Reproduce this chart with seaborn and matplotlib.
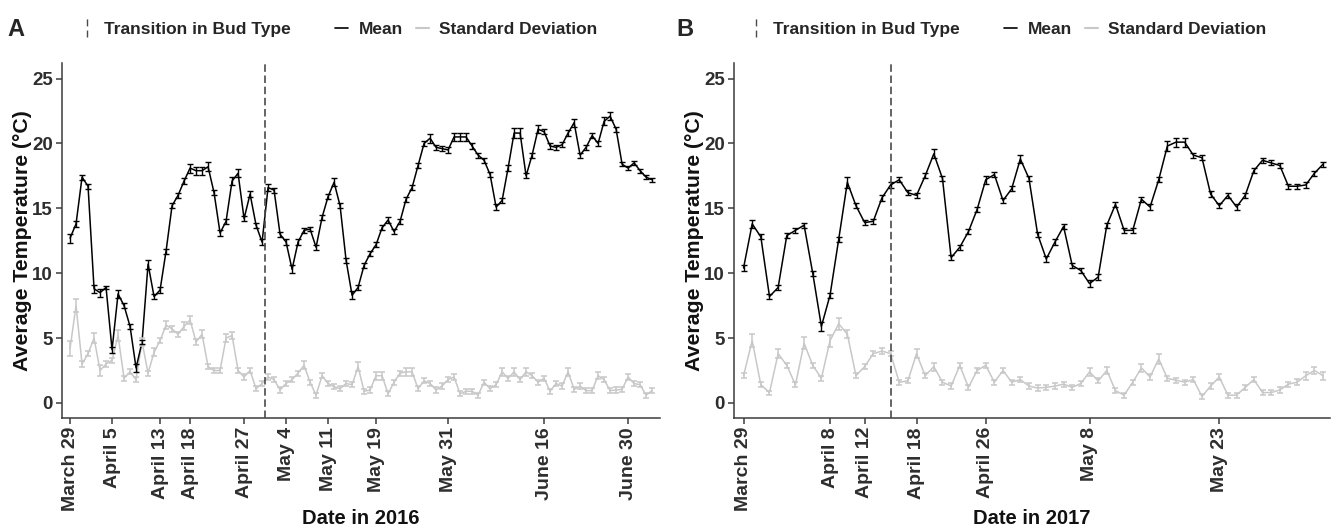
import numpy as np
import pandas as pd
import matplotlib
matplotlib.use("Agg")
import matplotlib.pyplot as plt
import seaborn as sns
from matplotlib.lines import Line2D
from matplotlib.legend_handler import HandlerBase
from matplotlib.font_manager import FontProperties

# ---------------- data ----------------
# Panel A: 2016, daily values starting March 29
mean_2016 = [12.7, 13.8, 17.4, 16.7, 8.8, 8.5, 8.9, 4.1, 8.4, 7.5,
             5.9, 2.7, 4.7, 10.7, 8.2, 8.7, 11.7, 15.2, 16.0, 17.1,
             18.1, 17.9, 17.9, 18.2, 16.2, 13.1, 14.0, 17.1, 17.7, 14.2,
             16.1, 13.7, 12.4, 16.6, 16.4, 13.0, 12.4, 10.3, 12.4, 13.3,
             13.4, 12.0, 14.3, 15.9, 17.0, 15.2, 11.0, 8.3, 8.9, 10.6,
             11.5, 12.2, 13.5, 14.1, 13.2, 14.0, 15.7, 16.6, 18.3, 20.0,
             20.4, 19.7, 19.6, 19.5, 20.5, 20.5, 20.5, 19.8, 19.1, 18.7,
             17.6, 15.1, 15.6, 18.1, 20.8, 20.8, 17.5, 19.1, 21.1, 20.9,
             19.8, 19.7, 19.9, 20.8, 21.6, 19.1, 19.7, 20.6, 20.0, 21.7,
             22.1, 21.1, 18.4, 18.1, 18.5, 17.9, 17.4, 17.2]
mean_2016_err = [0.35, 0.25, 0.2, 0.2, 0.3, 0.3, 0.15, 0.25, 0.3, 0.2,
                 0.2, 0.3, 0.15, 0.35, 0.2, 0.2, 0.2, 0.2, 0.2, 0.2,
                 0.35, 0.3, 0.3, 0.35, 0.2, 0.2, 0.2, 0.3, 0.3, 0.2,
                 0.2, 0.2, 0.2, 0.3, 0.2, 0.2, 0.2, 0.3, 0.2, 0.2,
                 0.15, 0.2, 0.2, 0.2, 0.3, 0.2, 0.2, 0.3, 0.2, 0.2,
                 0.2, 0.2, 0.2, 0.2, 0.2, 0.2, 0.2, 0.2, 0.2, 0.2,
                 0.35, 0.2, 0.2, 0.2, 0.3, 0.3, 0.3, 0.2, 0.2, 0.2,
                 0.2, 0.2, 0.2, 0.2, 0.4, 0.4, 0.2, 0.2, 0.3, 0.2,
                 0.2, 0.2, 0.2, 0.2, 0.3, 0.2, 0.2, 0.2, 0.2, 0.3,
                 0.3, 0.2, 0.15, 0.15, 0.15, 0.15, 0.15, 0.15]
sd_2016 = [4.2, 7.5, 3.0, 3.8, 5.0, 2.5, 3.0, 3.3, 5.2, 1.9,
           2.4, 1.8, 4.7, 2.3, 3.9, 4.8, 6.0, 5.7, 5.3, 5.9,
           6.4, 4.7, 5.3, 2.8, 2.5, 2.5, 5.0, 5.2, 2.5, 2.0,
           2.5, 1.1, 1.5, 2.0, 1.8, 1.0, 1.5, 1.8, 2.3, 2.9,
           1.6, 0.6, 2.1, 1.5, 1.25, 1.1, 1.5, 1.4, 2.8, 0.9,
           1.0, 2.1, 2.1, 0.7, 1.6, 2.3, 2.4, 2.4, 1.1, 1.7,
           1.5, 1.0, 1.3, 1.8, 2.0, 0.7, 0.9, 0.9, 0.6, 1.6,
           1.1, 1.4, 2.4, 1.9, 2.4, 1.8, 2.4, 2.1, 1.6, 1.9,
           0.9, 1.5, 1.3, 2.4, 1.05, 1.3, 0.95, 0.95, 2.1, 1.8,
           0.95, 1.0, 1.05, 2.0, 1.5, 1.4, 0.6, 0.95]
sd_2016_err = [0.55, 0.5, 0.2, 0.2, 0.4, 0.4, 0.2, 0.2, 0.45, 0.2,
               0.2, 0.2, 0.3, 0.2, 0.3, 0.2, 0.3, 0.2, 0.2, 0.3,
               0.3, 0.2, 0.3, 0.2, 0.2, 0.2, 0.3, 0.3, 0.2, 0.2,
               0.2, 0.2, 0.2, 0.2, 0.2, 0.2, 0.2, 0.2, 0.2, 0.3,
               0.2, 0.2, 0.2, 0.2, 0.2, 0.2, 0.2, 0.2, 0.35, 0.2,
               0.2, 0.3, 0.3, 0.2, 0.2, 0.2, 0.3, 0.3, 0.2, 0.2,
               0.2, 0.2, 0.2, 0.2, 0.2, 0.2, 0.2, 0.2, 0.2, 0.2,
               0.2, 0.2, 0.3, 0.2, 0.3, 0.2, 0.3, 0.2, 0.2, 0.2,
               0.2, 0.2, 0.2, 0.3, 0.2, 0.2, 0.2, 0.2, 0.25, 0.2,
               0.2, 0.2, 0.2, 0.25, 0.2, 0.2, 0.2, 0.2]
tick_days_2016 = [0, 7, 15, 20, 29, 36, 43, 51, 63, 79, 93]
tick_labels_2016 = ["March 29", "April 5", "April 13", "April 18", "April 27",
                    "May 4", "May 11", "May 19", "May 31", "June 16", "June 30"]
transition_2016 = 32.5

# Panel B: 2017, daily values starting March 29
mean_2017 = [10.4, 13.8, 12.8, 8.2, 8.9, 12.9, 13.3, 13.7, 10.0, 5.9,
             8.3, 12.6, 17.0, 15.2, 13.9, 14.0, 15.8, 16.8, 17.2, 16.2,
             16.0, 17.5, 19.2, 17.3, 11.2, 12.0, 13.2, 14.9, 17.2, 17.6,
             15.6, 16.5, 18.8, 17.3, 13.0, 11.1, 12.4, 13.6, 10.6, 10.2,
             9.2, 9.7, 13.7, 15.3, 13.3, 13.3, 15.7, 15.1, 17.2, 19.8,
             20.1, 20.1, 19.1, 18.9, 16.1, 15.2, 16.0, 15.1, 16.0, 17.9,
             18.7, 18.5, 18.3, 16.7, 16.7, 16.8, 17.7, 18.4]
mean_2017_err = [0.2, 0.3, 0.2, 0.2, 0.2, 0.2, 0.2, 0.2, 0.2, 0.35,
                 0.2, 0.2, 0.45, 0.2, 0.2, 0.2, 0.2, 0.2, 0.2, 0.2,
                 0.2, 0.2, 0.35, 0.2, 0.2, 0.2, 0.2, 0.2, 0.3, 0.2,
                 0.2, 0.2, 0.3, 0.2, 0.2, 0.2, 0.2, 0.2, 0.2, 0.2,
                 0.3, 0.2, 0.2, 0.2, 0.2, 0.2, 0.2, 0.2, 0.2, 0.35,
                 0.35, 0.35, 0.2, 0.2, 0.2, 0.2, 0.2, 0.2, 0.2, 0.2,
                 0.2, 0.2, 0.2, 0.2, 0.2, 0.2, 0.2, 0.2]
sd_2017 = [2.1, 4.8, 1.4, 0.8, 3.8, 2.9, 1.4, 4.6, 2.9, 1.9,
           4.8, 6.1, 5.3, 2.1, 2.8, 3.8, 4.0, 3.8, 1.6, 1.7,
           3.8, 2.1, 2.8, 1.6, 1.3, 2.9, 1.2, 2.5, 2.9, 1.6,
           2.5, 1.6, 1.8, 1.3, 1.15, 1.2, 1.3, 1.45, 1.2, 1.5,
           2.4, 1.7, 2.5, 0.95, 0.6, 1.6, 2.7, 2.0, 3.4, 1.9,
           1.75, 1.6, 1.8, 0.5, 1.3, 2.0, 0.6, 0.6, 1.2, 1.8,
           0.8, 0.8, 1.0, 1.45, 1.6, 2.1, 2.5, 2.1]
sd_2017_err = [0.2, 0.5, 0.2, 0.15, 0.35, 0.2, 0.2, 0.45, 0.2, 0.2,
               0.45, 0.45, 0.3, 0.2, 0.2, 0.2, 0.2, 0.2, 0.2, 0.2,
               0.35, 0.2, 0.3, 0.2, 0.2, 0.2, 0.2, 0.2, 0.2, 0.2,
               0.2, 0.2, 0.2, 0.2, 0.2, 0.2, 0.2, 0.2, 0.2, 0.2,
               0.3, 0.2, 0.3, 0.2, 0.2, 0.2, 0.3, 0.2, 0.4, 0.2,
               0.2, 0.2, 0.2, 0.2, 0.2, 0.2, 0.2, 0.2, 0.2, 0.2,
               0.2, 0.2, 0.2, 0.2, 0.25, 0.3, 0.25, 0.3]
tick_days_2017 = [0, 10, 14, 20, 28, 40, 55]
tick_labels_2017 = ["March 29", "April 8", "April 12", "April 18", "April 26",
                    "May 8", "May 23"]
transition_2017 = 17

# ---------------- style ----------------
sns.set_theme(style="ticks")
plt.rcParams["font.family"] = ["Liberation Sans", "DejaVu Sans"]
REG = ["Liberation Sans", "DejaVu Sans"]

MEAN_C = "#000000"
SD_C = "#c8c8c8"
AX_C = "#3c3c3c"
TICK_C = "#2e2e2e"
DASH_C = "#4a4a4a"

fig = plt.figure(figsize=(13.38, 5.31), dpi=100)
axA = fig.add_axes([0.0463, 0.2128, 0.4469, 0.6686])
axB = fig.add_axes([0.5486, 0.2128, 0.4454, 0.6686])


class VLineHandler(HandlerBase):
    def create_artists(self, legend, orig_handle, xdescent, ydescent,
                       width, height, fontsize, trans):
        x = width / 2 - xdescent
        ln = Line2D([x, x], [-ydescent - 0.3 * height, -ydescent + 1.3 * height],
                    color=DASH_C, linewidth=1.0)
        ln.set_dashes([5, 3])
        ln.set_transform(trans)
        return [ln]


def panel(ax, mean, mean_err, sd, sd_err, tick_days, tick_labels,
          transition, xlim, year):
    n = len(mean)
    days = np.arange(n)
    df = pd.DataFrame({
        "day": np.concatenate([days, days]),
        "value": np.concatenate([sd, mean]),
        "stat": ["Standard Deviation"] * n + ["Mean"] * n,
    })
    sns.lineplot(data=df, x="day", y="value", hue="stat",
                 hue_order=["Standard Deviation", "Mean"],
                 palette={"Mean": MEAN_C, "Standard Deviation": SD_C},
                 linewidth=1.1, legend=False, ax=ax)
    ax.errorbar(days, sd, yerr=sd_err, fmt="none", ecolor=SD_C,
                elinewidth=1.1, capsize=2.4, capthick=1.1, zorder=2)
    ax.errorbar(days, mean, yerr=mean_err, fmt="none", ecolor=MEAN_C,
                elinewidth=1.0, capsize=2.4, capthick=1.0, zorder=3)
    vl = ax.axvline(transition, color=DASH_C, linewidth=1.2, zorder=4)
    vl.set_dashes([4.5, 2.2])

    ax.set_xlim(*xlim)
    ax.set_ylim(-1.16, 26.2)
    ax.set_yticks([0, 5, 10, 15, 20, 25])
    ax.set_yticklabels(["0", "5", "10", "15", "20", "25"])
    ax.set_xticks(tick_days)
    ax.set_xticklabels(tick_labels, rotation=90)
    for lbl in ax.get_xticklabels():
        lbl.set_fontproperties(FontProperties(family=REG, weight="bold", size=14))
        lbl.set_color(TICK_C)
    for lbl in ax.get_yticklabels():
        lbl.set_fontproperties(FontProperties(family=REG, weight="bold", size=13.5))
        lbl.set_color(TICK_C)
    ax.tick_params(axis="both", direction="out", length=4, width=1.1,
                   color=AX_C, pad=2.5)
    for s in ["top", "right"]:
        ax.spines[s].set_visible(False)
    for s in ["left", "bottom"]:
        ax.spines[s].set_color(AX_C)
        ax.spines[s].set_linewidth(1.1)
    ax.set_xlabel(f"Date in {year}", fontproperties=FontProperties(
        family=REG, weight="bold", size=14.5), color="#111111")
    ax.xaxis.set_label_coords(0.5, -0.255)
    ax.set_ylabel("Average Temperature (°C)", fontproperties=FontProperties(
        family=REG, weight="bold", size=15.3), color="#111111")
    ax.yaxis.set_label_coords(-0.05, 0.5)
    ax.set_facecolor("white")


panel(axA, mean_2016, mean_2016_err, sd_2016, sd_2016_err,
      tick_days_2016, tick_labels_2016, transition_2016, (-1.35, 98.3), 2016)
panel(axB, mean_2017, mean_2017_err, sd_2017, sd_2017_err,
      tick_days_2017, tick_labels_2017, transition_2017, (-1.1, 67.8), 2017)

# ---------------- legends & panel letters ----------------
leg_font = FontProperties(family=REG, weight="bold", size=12.5)
for ax, x0, letter_x, letter in [(axA, 0.0605, 0.0057, "A"),
                                 (axB, 0.5605, 0.5057, "B")]:
    trans_handle = Line2D([], [], color=DASH_C)
    l1 = ax.legend([trans_handle], ["Transition in Bud Type"],
                   handler_map={Line2D: VLineHandler()},
                   loc="center left", bbox_to_anchor=(x0, 0.945),
                   bbox_transform=fig.transFigure, frameon=False,
                   prop=leg_font, handlelength=0.7, handletextpad=0.6,
                   borderpad=0, borderaxespad=0)
    ax.add_artist(l1)
    h_mean = Line2D([], [], color=MEAN_C, linewidth=1.2)
    h_sd = Line2D([], [], color=SD_C, linewidth=1.5)
    ax.legend([h_mean, h_sd], ["Mean", "Standard Deviation"], ncol=2,
              loc="center left", bbox_to_anchor=(x0 + 0.19, 0.945),
              bbox_transform=fig.transFigure, frameon=False, prop=leg_font,
              handlelength=0.75, handletextpad=0.6, columnspacing=0.75,
              borderpad=0, borderaxespad=0)
    fig.text(letter_x, 0.945, letter, va="center", ha="left",
             fontproperties=FontProperties(family=REG, weight="bold", size=17))

fig.savefig("out.png", dpi=100, facecolor="white")
